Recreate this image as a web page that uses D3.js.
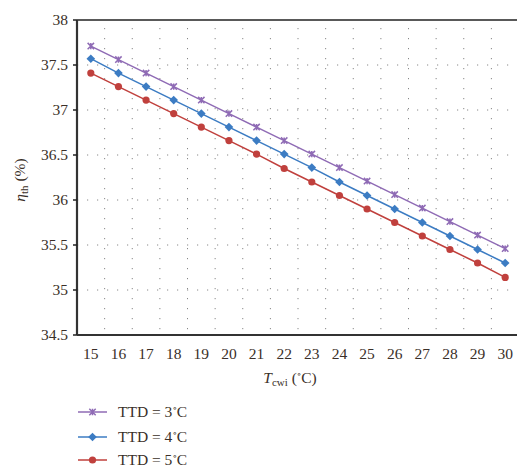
<!DOCTYPE html>
<html><head><meta charset="utf-8">
<script src="https://cdn.jsdelivr.net/npm/d3@7"></script>
<style>body{margin:0;background:#fff}svg{display:block}text{font-family:"Liberation Serif","DejaVu Serif",serif;fill:#3a2f28}</style>
</head><body><svg id="c" width="517" height="469"></svg>
<script>
const categories = [15,16,17,18,19,20,21,22,23,24,25,26,27,28,29,30];
const ttd3 = [37.71,37.56,37.41,37.26,37.11,36.96,36.81,36.66,36.51,36.36,36.21,36.06,35.91,35.76,35.61,35.46];
const ttd4 = [37.57,37.41,37.26,37.11,36.96,36.81,36.66,36.51,36.36,36.20,36.05,35.90,35.75,35.60,35.45,35.30];
const ttd5 = [37.41,37.26,37.11,36.96,36.81,36.66,36.51,36.35,36.20,36.05,35.90,35.75,35.60,35.45,35.30,35.14];
const yTicks = [34.5,35,35.5,36,36.5,37,37.5,38];
const seriesNames = ["TTD = 3","TTD = 4","TTD = 5"];

const svg = d3.select("#c");
const L=77, R=519, T=20, B=335;
const x = d3.scaleBand().domain(categories).range([L,R]);
const y = d3.scaleLinear().domain([34.5,38]).range([B,T]);
const cx = d => x(d)+x.bandwidth()/2;

// grid
const g = svg.append("g");
yTicks.filter(v=>v>34.5&&v<38).forEach(v=>{
  g.append("line").attr("x1",L).attr("x2",R).attr("y1",y(v)).attr("y2",y(v))
   .attr("stroke","#888").attr("stroke-width",1).attr("stroke-dasharray","1.2,8.8");
});
categories.slice(0,-1).forEach(c=>{
  const xx = x(c)+x.bandwidth();
  g.append("line").attr("x1",xx).attr("x2",xx).attr("y1",T).attr("y2",B)
   .attr("stroke","#888").attr("stroke-width",1).attr("stroke-dasharray","1.2,8.8").attr("stroke-dashoffset",-8);
});

// axes
svg.append("line").attr("x1",L).attr("x2",517).attr("y1",T).attr("y2",T).attr("stroke","#222").attr("stroke-width",1.6);
svg.append("line").attr("x1",L).attr("x2",517).attr("y1",B).attr("y2",B).attr("stroke","#333").attr("stroke-width",2.2);
svg.append("line").attr("x1",L).attr("x2",L).attr("y1",T).attr("y2",B).attr("stroke","#333").attr("stroke-width",2.2);
yTicks.forEach(v=>{
  svg.append("line").attr("x1",L-4).attr("x2",L).attr("y1",y(v)).attr("y2",y(v)).attr("stroke","#222").attr("stroke-width",1.5);
  svg.append("text").attr("x",L-9).attr("y",y(v)+5).attr("text-anchor","end").attr("font-size",15.5).text(d3.format("")(v));
});
categories.forEach(c=>{
  svg.append("text").attr("x",cx(c)).attr("y",B+24).attr("text-anchor","middle").attr("font-size",15.5).text(c);
});

// axis titles
const xt = svg.append("text").attr("x",290).attr("y",383).attr("text-anchor","middle").attr("font-size",15.5);
xt.append("tspan").attr("font-style","italic").text("T");
xt.append("tspan").attr("font-size",11).attr("dy",3).text("cwi");
xt.append("tspan").attr("dy",-3).text(" (");
xt.append("tspan").attr("font-size",9).attr("dy",-6).text("∘");
xt.append("tspan").attr("dy",6).text("C)");

const yt = svg.append("text").attr("transform","translate(25,180) rotate(-90)").attr("text-anchor","middle").attr("font-size",15.5);
yt.append("tspan").attr("font-style","italic").text("η");
yt.append("tspan").attr("font-size",11).attr("dy",3).text("th");
yt.append("tspan").attr("dy",-3).text(" (%)");

// series
const colors = ["#8f6bb5","#3c7cc3","#c0403d"];
const data = [ttd3,ttd4,ttd5];
const line = d3.line().x((d,i)=>cx(categories[i])).y(d=>y(d));
function marker(sel,k,px,py){
  if(k===0){
    const s=3.2;
    sel.append("path").attr("d",`M${px-s},${py-s}L${px+s},${py+s}M${px-s},${py+s}L${px+s},${py-s}M${px},${py-s}L${px},${py+s}`)
      .attr("stroke",colors[0]).attr("stroke-width",1.5).attr("fill","none");
  } else if(k===1){
    const s=4.3;
    sel.append("path").attr("d",`M${px},${py-s}L${px+s},${py}L${px},${py+s}L${px-s},${py}Z`).attr("fill",colors[1]);
  } else {
    sel.append("circle").attr("cx",px).attr("cy",py).attr("r",3.6).attr("fill",colors[2]);
  }
}
data.forEach((arr,k)=>{
  svg.append("path").datum(arr).attr("d",line).attr("fill","none").attr("stroke",colors[k]).attr("stroke-width",1.5);
  const gm = svg.append("g");
  arr.forEach((v,i)=>marker(gm,k,cx(categories[i]),y(v)));
});

// legend
const ly=[412,437,460];
seriesNames.forEach((n,k)=>{
  svg.append("line").attr("x1",78).attr("x2",107).attr("y1",ly[k]).attr("y2",ly[k]).attr("stroke",colors[k]).attr("stroke-width",1.5);
  marker(svg,k,92.5,ly[k]);
  const t = svg.append("text").attr("x",118).attr("y",ly[k]+5).attr("font-size",15.5);
  t.append("tspan").text(n);
  t.append("tspan").attr("font-size",9).attr("dy",-6).text("∘");
  t.append("tspan").attr("dy",6).text("C");
});
</script></body></html>
